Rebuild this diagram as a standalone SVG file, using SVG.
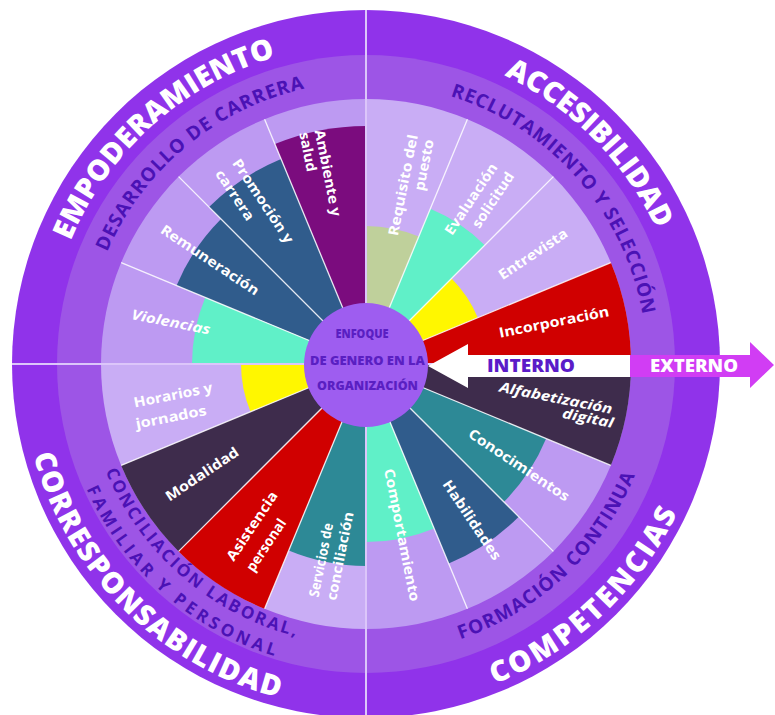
<svg xmlns="http://www.w3.org/2000/svg" width="775" height="715" viewBox="0 0 775 715">
<style>
.title{font-family:"Open Sans","DejaVu Sans",sans-serif;font-weight:800;font-size:29px;fill:#ffffff}
.sub{font-family:"Open Sans","DejaVu Sans",sans-serif;font-weight:700;font-size:19px;fill:#4B12B5}
.sub2{font-family:"Open Sans","DejaVu Sans",sans-serif;font-weight:700;font-size:17px;fill:#4B12B5}
.lbl{font-family:"Open Sans","DejaVu Sans",sans-serif;font-weight:700;font-size:14px;fill:#ffffff;text-anchor:middle}
.it{font-style:italic}
.ctr{font-family:"Open Sans","DejaVu Sans",sans-serif;font-weight:800;font-size:12.5px;fill:#5A1FC2;text-anchor:middle}
.sep{stroke:#ffffff;stroke-opacity:0.85;stroke-width:1.3}
.qline{stroke:#DCC6FA;stroke-width:2}
.arrowtxt{font-family:"Open Sans","DejaVu Sans",sans-serif;font-weight:800;font-size:18px;text-anchor:middle}
</style>
<defs>
<path id="p-emp" d="M69.1,483.4 A320,320 0 0 1 516.7,81.7"/>
<path id="p-acc" d="M232.5,73.2 A320,320 0 0 1 655.2,501.0"/>
<path id="p-des" d="M100.3,458.6 A282,282 0 0 1 508.7,120.8"/>
<path id="p-rec" d="M263.7,102.3 A281,281 0 0 1 612.6,498.7"/>
<path id="p-cor" d="M52.6,219.8 A345,345 0 0 0 513.5,675.9"/>
<path id="p-com" d="M210.2,671.8 A345,345 0 0 0 683.2,228.3"/>
<path id="p-for" d="M234.8,623.7 A291,291 0 0 0 633.5,249.4"/>
<path id="p-con1" d="M103.6,262.5 A281,281 0 0 0 502.2,609.7"/>
<path id="p-con2" d="M81.7,250.8 A306,306 0 0 0 511.1,633.5"/>
</defs>

<g id="rings">
<circle cx="366" cy="364" r="354" fill="#9033EA"/>
<circle cx="366" cy="364" r="309" fill="#9D55E6"/>
<path d="M366,364 L101,364 A265,265 0 0 1 366,99 Z" fill="#BD9AF2"/>
<path d="M366,364 L366,99 A265,265 0 0 1 631,364 Z" fill="#C9ADF5"/>
<path d="M366,364 L631,364 A265,265 0 0 1 366,629 Z" fill="#BD9AF2"/>
<path d="M366,364 L366,629 A265,265 0 0 1 101,364 Z" fill="#C9ADF5"/>
</g>

<g id="wedges">
<g id="w-ambiente"><path d="M366,364 L366,126 A238,238 0 0 0 274.92,144.12 Z" fill="#7B0C7E"/></g>
<g id="w-promocion"><path d="M366,364 L281.05,158.90 A222,222 0 0 0 209.02,207.02 Z" fill="#305C8C"/></g>
<g id="w-remuneracion"><path d="M366,364 L221.04,219.04 A205,205 0 0 0 176.60,285.55 Z" fill="#305C8C"/></g>
<g id="w-violencias"><path d="M366,364 L205.24,297.41 A174,174 0 0 0 192,364 Z" fill="#60F0C8"/></g>
<g id="w-requisito"><path d="M366,364 L418.81,236.50 A138,138 0 0 0 366,226 Z" fill="#BFD09B"/></g>
<g id="w-evaluacion"><path d="M366,364 L484.79,245.21 A168,168 0 0 0 430.29,208.79 Z" fill="#60F0C8"/></g>
<g id="w-entrevista"><path d="M366,364 L477.79,317.70 A121,121 0 0 0 451.56,278.44 Z" fill="#FFF700"/></g>
<g id="w-incorporacion"><path d="M366,364 L631,364 A265,265 0 0 0 610.83,262.59 Z" fill="#D00000"/></g>
<g id="w-alfabetizacion"><path d="M366,364 L610.83,465.41 A265,265 0 0 0 631,364 Z" fill="#3E2C4C"/></g>
<g id="w-conocimientos"><path d="M366,364 L503.89,501.89 A195,195 0 0 0 546.16,438.62 Z" fill="#2D8996"/></g>
<g id="w-habilidades"><path d="M366,364 L448.66,563.56 A216,216 0 0 0 518.74,516.74 Z" fill="#305C8C"/></g>
<g id="w-comportamiento"><path d="M366,364 L366,542 A178,178 0 0 0 434.12,528.45 Z" fill="#60F0C8"/></g>
<g id="w-horarios"><path d="M366,364 L241,364 A125,125 0 0 0 250.51,411.84 Z" fill="#FFF700"/></g>
<g id="w-modalidad"><path d="M366,364 L121.17,465.41 A265,265 0 0 0 178.62,551.38 Z" fill="#3E2C4C"/></g>
<g id="w-asistencia"><path d="M366,364 L178.62,551.38 A265,265 0 0 0 264.59,608.83 Z" fill="#D00000"/></g>
<g id="w-servicios"><path d="M366,364 L288.70,550.62 A202,202 0 0 0 366,566 Z" fill="#2D8996"/></g>
</g>

<g id="separators">
<line class="sep" x1="366" y1="364" x2="610.83" y2="262.59"/>
<line class="sep" x1="366" y1="364" x2="553.38" y2="176.62"/>
<line class="sep" x1="366" y1="364" x2="467.41" y2="119.17"/>
<line class="sep" x1="366" y1="364" x2="264.59" y2="119.17"/>
<line class="sep" x1="366" y1="364" x2="178.62" y2="176.62"/>
<line class="sep" x1="366" y1="364" x2="121.17" y2="262.59"/>
<line class="sep" x1="366" y1="364" x2="121.17" y2="465.41"/>
<line class="sep" x1="366" y1="364" x2="178.62" y2="551.38"/>
<line class="sep" x1="366" y1="364" x2="264.59" y2="608.83"/>
<line class="sep" x1="366" y1="364" x2="467.41" y2="608.83"/>
<line class="sep" x1="366" y1="364" x2="553.38" y2="551.38"/>
<line class="sep" x1="366" y1="364" x2="610.83" y2="465.41"/>
<line class="qline" x1="366" y1="10" x2="366" y2="718"/>
<line class="qline" x1="12" y1="364" x2="720" y2="364"/>
</g>

<g id="connectors">
<polygon id="arrow-interno" points="428,366 468,344 468,355 630,355 630,377 468,377 468,388" fill="#ffffff"/>
<polygon id="arrow-externo" points="630,355 750,355 750,342 774,365 750,388 750,377 630,377" fill="#D13DF4"/>
<text class="arrowtxt" x="531" y="372" fill="#5B1BC8" textLength="88" lengthAdjust="spacingAndGlyphs">INTERNO</text>
<text class="arrowtxt" x="694" y="372" fill="#ffffff" textLength="88" lengthAdjust="spacingAndGlyphs">EXTERNO</text>
</g>

<g id="center">
<circle cx="366" cy="365" r="62" fill="#9E5DF0"/>
<text class="ctr" x="362" y="337.5" textLength="53" lengthAdjust="spacingAndGlyphs">ENFOQUE</text>
<text class="ctr" x="367.5" y="364.5" textLength="115" lengthAdjust="spacingAndGlyphs">DE GENERO EN LA</text>
<text class="ctr" x="367.5" y="389.5" textLength="101" lengthAdjust="spacingAndGlyphs">ORGANIZACIÓN</text>
</g>

<g id="titles">
<text class="title"><textPath href="#p-emp" startOffset="50%" text-anchor="middle" textLength="285" lengthAdjust="spacing">EMPODERAMIENTO</textPath></text>
<text class="title"><textPath href="#p-acc" startOffset="50%" text-anchor="middle" textLength="221" lengthAdjust="spacing">ACCESIBILIDAD</textPath></text>
<text class="title"><textPath href="#p-cor" startOffset="50%" text-anchor="middle" textLength="361" lengthAdjust="spacing">CORRESPONSABILIDAD</textPath></text>
<text class="title"><textPath href="#p-com" startOffset="50%" text-anchor="middle" textLength="256" lengthAdjust="spacing">COMPETENCIAS</textPath></text>
<text class="sub"><textPath href="#p-des" startOffset="50%" text-anchor="middle" textLength="266" lengthAdjust="spacing">DESARROLLO DE CARRERA</textPath></text>
<text class="sub"><textPath href="#p-rec" startOffset="50%" text-anchor="middle" textLength="306" lengthAdjust="spacing">RECLUTAMIENTO Y SELECCIÓN</textPath></text>
<text class="sub"><textPath href="#p-for" startOffset="50%" text-anchor="middle" textLength="247" lengthAdjust="spacing">FORMACIÓN CONTINUA</textPath></text>
<text class="sub2"><textPath href="#p-con1" startOffset="50%" text-anchor="middle" textLength="261" lengthAdjust="spacing">CONCILIACIÓN LABORAL,</textPath></text>
<text class="sub2"><textPath href="#p-con2" startOffset="50%" text-anchor="middle" textLength="259" lengthAdjust="spacing">FAMILIAR Y PERSONAL</textPath></text>
</g>

<g id="labels">
<text class="lbl it" transform="translate(171 322) rotate(11.25)" dy="0.35em" textLength="80" lengthAdjust="spacingAndGlyphs">Violencias</text>
<text class="lbl" transform="translate(210 260) rotate(33.75)" dy="0.35em" textLength="115" lengthAdjust="spacingAndGlyphs">Remuneración</text>
<text class="lbl" transform="translate(263 201) rotate(56.25)" dy="0.35em" textLength="98" lengthAdjust="spacingAndGlyphs">Promoción y</text>
<text class="lbl" transform="translate(235 195) rotate(56.25)" dy="0.35em" textLength="58" lengthAdjust="spacingAndGlyphs">carrera</text>
<text class="lbl" transform="translate(328 173) rotate(78.75)" dy="0.35em" textLength="88" lengthAdjust="spacingAndGlyphs">Ambiente y</text>
<text class="lbl" transform="translate(308 152) rotate(78.75)" dy="0.35em" textLength="40" lengthAdjust="spacingAndGlyphs">salud</text>
<text class="lbl" transform="translate(403 185) rotate(-78.75)" dy="0.35em" textLength="103" lengthAdjust="spacingAndGlyphs">Requisito del</text>
<text class="lbl" transform="translate(424 165) rotate(-78.75)" dy="0.35em" textLength="52" lengthAdjust="spacingAndGlyphs">puesto</text>
<text class="lbl" transform="translate(471 199) rotate(-56.25)" dy="0.35em" textLength="83" lengthAdjust="spacingAndGlyphs">Evaluación</text>
<text class="lbl" transform="translate(493 200) rotate(-56.25)" dy="0.35em" textLength="64" lengthAdjust="spacingAndGlyphs">solicitud</text>
<text class="lbl" transform="translate(533 254) rotate(-33.75)" dy="0.35em" textLength="80" lengthAdjust="spacingAndGlyphs">Entrevista</text>
<text class="lbl" transform="translate(554 322) rotate(-11.25)" dy="0.35em" textLength="112" lengthAdjust="spacingAndGlyphs">Incorporación</text>
<text class="lbl it" transform="translate(556 398) rotate(11.25)" dy="0.35em" textLength="115" lengthAdjust="spacingAndGlyphs">Alfabetización</text>
<text class="lbl it" transform="translate(588 418) rotate(11.25)" dy="0.35em" textLength="52" lengthAdjust="spacingAndGlyphs">digital</text>
<text class="lbl" transform="translate(519 465) rotate(33.75)" dy="0.35em" textLength="118" lengthAdjust="spacingAndGlyphs">Conocimientos</text>
<text class="lbl" transform="translate(472 520) rotate(56.25)" dy="0.35em" textLength="93" lengthAdjust="spacingAndGlyphs">Habilidades</text>
<text class="lbl" transform="translate(402 535) rotate(78.75)" dy="0.35em" textLength="135" lengthAdjust="spacingAndGlyphs">Comportamiento</text>
<text class="lbl" transform="translate(173 395) rotate(-11.25)" dy="0.35em" textLength="80" lengthAdjust="spacingAndGlyphs">Horarios y</text>
<text class="lbl" transform="translate(171 417) rotate(-11.25)" dy="0.35em" textLength="72" lengthAdjust="spacingAndGlyphs">jornados</text>
<text class="lbl" transform="translate(202 474) rotate(-33.75)" dy="0.35em" textLength="85" lengthAdjust="spacingAndGlyphs">Modalidad</text>
<text class="lbl" transform="translate(252 526) rotate(-56.25)" dy="0.35em" textLength="80" lengthAdjust="spacingAndGlyphs">Asistencia</text>
<text class="lbl" transform="translate(266 545) rotate(-56.25)" dy="0.35em" textLength="60" lengthAdjust="spacingAndGlyphs">personal</text>
<text class="lbl" transform="translate(321 560) rotate(-78.75)" dy="0.35em" textLength="75" lengthAdjust="spacingAndGlyphs">Servicios de</text>
<text class="lbl" transform="translate(340 556) rotate(-78.75)" dy="0.35em" textLength="90" lengthAdjust="spacingAndGlyphs">conciliación</text>
</g>
</svg>
